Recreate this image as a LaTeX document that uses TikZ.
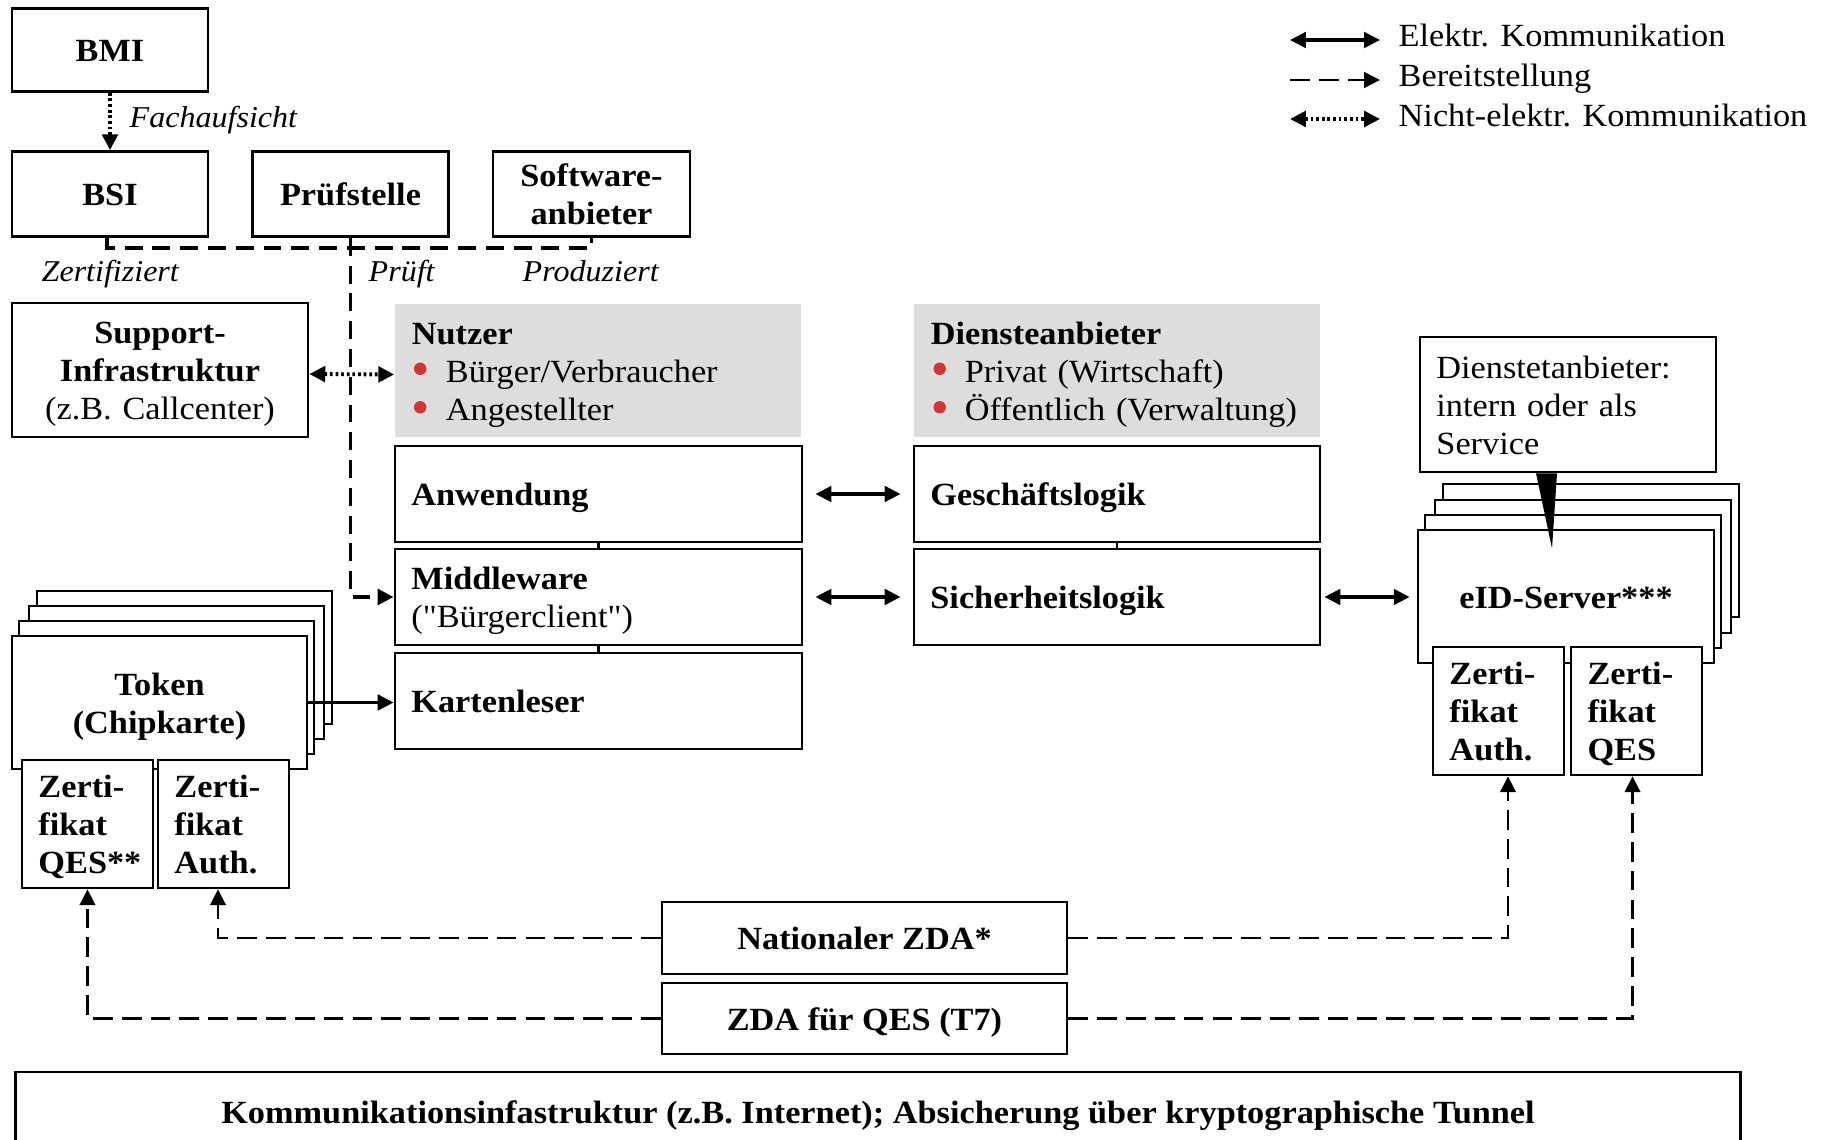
\documentclass[tikz,border=0pt]{standalone}
\usepackage{fontspec}
\setmainfont{Liberation Serif}[FakeStretch=1.06]
\newfontface\plainq{Liberation Serif}[FakeStretch=1.06]
\usetikzlibrary{arrows.meta,calc}
\definecolor{lgray}{RGB}{221,221,221}
\definecolor{bred}{RGB}{214,51,51}
\newcommand{\bul}{\hspace*{0.34cm}}
\newcommand{\sq}{{\plainq\symbol{34}}}
\tikzset{
  every node/.style={font=\fontsize{9.2}{10.8}\selectfont},
  box/.style={draw, line width=0.75pt, fill=white, inner sep=0pt, align=center,
    font=\fontsize{9.2}{10.8}\selectfont\bfseries},
  lbox/.style={box, align=left, inner xsep=0.165cm},
  graybox/.style={fill=lgray, inner sep=0pt, inner xsep=0.17cm, align=left,
    font=\fontsize{9.2}{10.8}\selectfont},
  bulletdot/.style={fill=bred},
  one/.style={text height=6.7pt, text depth=0pt},
  two/.style={text height=6.7pt, text depth=10.8pt},
  three/.style={text height=6.7pt, text depth=21.6pt},
  lab/.style={font=\fontsize{8.6}{10}\selectfont\itshape, inner sep=0pt},
  legtext/.style={font=\fontsize{9.2}{10.8}\selectfont, inner sep=0pt, anchor=base west},
  >={Triangle[length=4.5pt,width=4.4pt]},
  solidarrow/.style={line width=0.9pt},
  dashline/.style={line width=0.75pt, dash pattern=on 5.6pt off 2.6pt},
  topdash/.style={line width=1.1pt, dash pattern=on 5.1pt off 2.8pt},
  dotline/.style={line width=1.1pt, dash pattern=on 0.8pt off 0.8pt},
  stub/.style={line width=0.75pt}
}
\begin{document}
\begin{tikzpicture}[x=0.01cm, y=-0.01cm]
\useasboundingbox (0,0) rectangle (1834,1140);

% top boxes
\node[box, one, minimum width=1.96cm, minimum height=0.83cm] (bmi) at (110,50) {BMI};
\node[box, one, minimum width=1.96cm, minimum height=0.85cm] (bsi) at (110,194) {BSI};
\node[box, one, minimum width=1.96cm, minimum height=0.85cm] (pruef) at (350.5,194) {Prüfstelle};
\node[box, two, text width=1.97cm, minimum width=1.97cm, minimum height=0.85cm] (sw) at (591.5,194) {Software-\\anbieter};

% support
\node[box, three, text width=2.96cm, minimum width=2.96cm, minimum height=1.34cm] (sup) at (160,370) {Support-\\Infrastruktur\\\mdseries(z.B. Callcenter)};

% gray boxes
\node[graybox, three, minimum width=4.06cm, minimum height=1.33cm, text width=3.72cm] (nutzer) at (598,370.5)
  {\textbf{Nutzer}\\\bul Bürger/Verbraucher\\\bul Angestellter};
\node[graybox, three, minimum width=4.06cm, minimum height=1.33cm, text width=3.72cm] (dienst) at (1117,370.5)
  {\textbf{Diensteanbieter}\\\bul Privat (Wirtschaft)\\\bul Öffentlich (Verwaltung)};
\fill[bulletdot] ($(nutzer.north west)+(26,65.5)$) circle (6.2);
\fill[bulletdot] ($(nutzer.north west)+(26,104)$) circle (6.2);
\fill[bulletdot] ($(dienst.north west)+(26.5,65.5)$) circle (6.2);
\fill[bulletdot] ($(dienst.north west)+(26.5,104)$) circle (6.2);

% user side
\node[lbox, one, minimum width=4.07cm, minimum height=0.96cm, text width=3.74cm] (anw) at (598.5,494) {Anwendung};
\node[lbox, two, minimum width=4.07cm, minimum height=0.96cm, text width=3.74cm] (mw) at (598.5,597) {Middleware\\\mdseries(\sq Bürgerclient\sq)};
\node[lbox, one, minimum width=4.07cm, minimum height=0.96cm, text width=3.74cm] (kl) at (598.5,701) {Kartenleser};

% provider side
\node[lbox, one, minimum width=4.06cm, minimum height=0.96cm, text width=3.73cm] (gl) at (1117,494) {Geschäftslogik};
\node[lbox, one, minimum width=4.06cm, minimum height=0.96cm, text width=3.73cm] (sl) at (1117,597) {Sicherheitslogik};

% eID server stack
\node[box, minimum width=2.96cm, minimum height=1.33cm] (eidb3) at (1591,550.5) {};
\node[box, minimum width=2.96cm, minimum height=1.33cm] (eidb2) at (1583,566.5) {};
\node[box, minimum width=2.96cm, minimum height=1.33cm] (eidb1) at (1573,581.5) {};
\node[box, one, minimum width=2.96cm, minimum height=1.33cm] (eid) at (1566,596.5) {eID-Server***};
\node[lbox, three, minimum width=1.31cm, minimum height=1.28cm, text width=0.98cm] (eauth) at (1498.5,711) {Zerti-\\fikat\\Auth.};
\node[lbox, three, minimum width=1.31cm, minimum height=1.28cm, text width=0.98cm] (eqes) at (1636.5,711) {Zerti-\\fikat\\QES};

% callout
\node[lbox, three, minimum width=2.96cm, minimum height=1.35cm, text width=2.63cm,
  font=\fontsize{9.2}{10.8}\selectfont] (callout) at (1568,404.5) {Dienstetanbieter:\\intern oder als\\Service};
\fill ($(callout.south)+(-32,0)$) -- ($(callout.south)+(-11,0)$) -- ($(callout.south)+(-16,75)$) -- cycle;

% token stack
\node[box, minimum width=2.95cm, minimum height=1.33cm] (tokb3) at (184.5,657.5) {};
\node[box, minimum width=2.95cm, minimum height=1.33cm] (tokb2) at (176.5,672.5) {};
\node[box, minimum width=2.95cm, minimum height=1.33cm] (tokb1) at (166.5,687.5) {};
\node[box, two, text width=2.95cm, minimum width=2.95cm, minimum height=1.33cm] (token) at (159.5,702.5) {Token\\(Chipkarte)};
\node[lbox, three, minimum width=1.31cm, minimum height=1.28cm, text width=0.98cm] (tqes) at (87.5,824) {Zerti-\\fikat\\QES**};
\node[lbox, three, minimum width=1.31cm, minimum height=1.28cm, text width=0.98cm] (tauth) at (223.5,824) {Zerti-\\fikat\\Auth.};

% ZDA
\node[box, one, minimum width=4.05cm, minimum height=0.72cm] (nzda) at (864.5,938) {Nationaler ZDA*};
\node[box, one, minimum width=4.05cm, minimum height=0.71cm] (qzda) at (864.5,1018.5) {ZDA für QES (T7)};

% infrastructure
\node[box, one, minimum width=17.24cm, minimum height=0.80cm] (infra) at (878,1112)
  {Kommunikationsinfastruktur (z.B. Internet); Absicherung über kryptographische Tunnel};

% labels
\node[lab, anchor=base west] (lfach) at (129,128) {Fachaufsicht};
\node[lab, anchor=base west] (lzert) at (41,282) {Zertifiziert};
\node[lab, anchor=base west] (lpruef) at (368,282) {Prüft};
\node[lab, anchor=base west] (lprod) at (522,282) {Produziert};

% connectors
\draw[dotline,->] (bmi.south) -- (bsi.north);
\coordinate (jl) at (107,248);
\draw[topdash] (bsi.south -| jl) -- (jl) -| (sw.south);
\draw[topdash,->] (pruef.south) |- (mw.west);
\draw[dotline,<->] ($(sup.east)+(0,4)$) -- ($(nutzer.west)+(0,4)$);

\draw[stub] (anw.south) -- (mw.north);
\draw[stub] (mw.south) -- (kl.north);
\draw[stub] (gl.south) -- (sl.north);

\draw[solidarrow,<->,shorten <=0.12cm,shorten >=0.12cm] (anw.east) -- (gl.west);
\draw[solidarrow,<->,shorten <=0.12cm,shorten >=0.12cm] (mw.east) -- (sl.west);
\draw[solidarrow,<->,shorten <=0.03cm,shorten >=0.07cm] (sl.east) -- (sl.east -| eid.west);
\draw[solidarrow,->] (token.east) -- (token.east -| kl.west);

\draw[dashline,->] (nzda.west) -| ($(tauth.south)+(-5.5,0)$);
\draw[dashline,->] (nzda.east) -| ($(eauth.south)+(9.5,0)$);
\draw[dashline,->] (qzda.west) -| (tqes.south);
\draw[dashline,->] (qzda.east) -| ($(eqes.south)+(-4,0)$);

% legend
\coordinate (la1) at (1290,40); \coordinate (lb1) at (1380,40);
\coordinate (la2) at (1290,80); \coordinate (lb2) at (1380,80);
\coordinate (la3) at (1290,119); \coordinate (lb3) at (1380,119);
\draw[solidarrow,<->] (la1) -- (lb1);
\draw[dashline,->] (la2) -- (lb2);
\draw[dotline,<->] (la3) -- (lb3);
\node[legtext] (lt1) at (1398,47) {Elektr. Kommunikation};
\node[legtext] (lt2) at (1398,87) {Bereitstellung};
\node[legtext] (lt3) at (1398,127) {Nicht-elektr. Kommunikation};
\end{tikzpicture}
\end{document}
